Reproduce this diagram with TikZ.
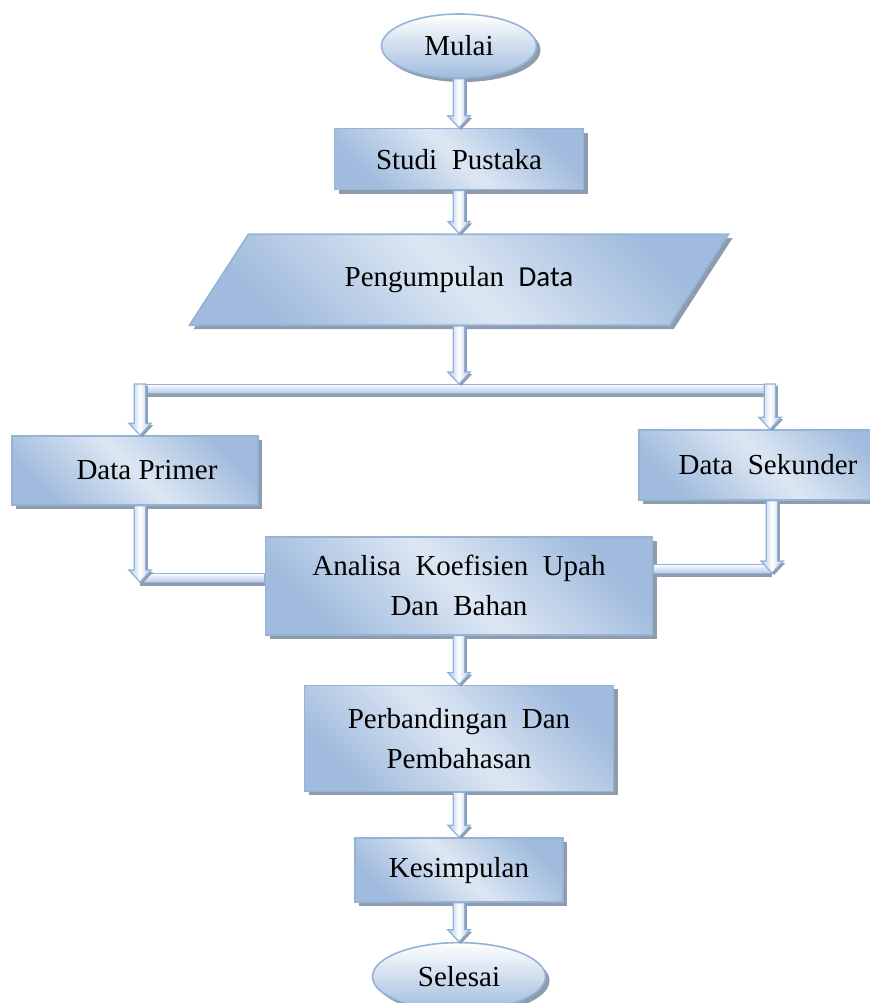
\documentclass[tikz,border=0pt]{standalone}
\usepackage{fontspec}
\setmainfont{Liberation Serif}
\newfontfamily\calibfont{Carlito}
\usepackage{tikz}
\usetikzlibrary{positioning,shapes.geometric,shadows,calc}
\definecolor{boxline}{HTML}{95B3D7}
\definecolor{boxdark}{HTML}{A0BBDD}
\definecolor{boxlight}{HTML}{DDE7F3}
\definecolor{shadowgray}{HTML}{8E9CAD}
\definecolor{pipeline}{HTML}{8FB1DA}
\definecolor{pipedark}{HTML}{AFC6E4}
\newcommand\pipew{2.9pt}
\newcommand\headw{5.6pt}
\newcommand\headl{6pt}
\newcommand\tubew{2.4pt}
\tikzset{
  shade/.style ={drop shadow={shadow xshift=2pt,shadow yshift=-2pt,
                 fill=shadowgray,opacity=1}},
  box/.style   ={rectangle,draw=boxline,line width=0.8pt,top color=boxdark,
                 bottom color=boxdark,middle color=boxlight,shading angle=-45,
                 align=center,shade},
  term/.style  ={ellipse,draw=boxline,line width=0.8pt,top color=white,
                 bottom color=boxdark,shade},
  io/.style    ={trapezium,trapezium left angle=34,trapezium right angle=146,
                 trapezium stretches body,draw=boxline,line width=0.8pt,
                 top color=boxdark,bottom color=boxdark,middle color=boxlight,
                 shading angle=-45,shade},
  pipe/.style  ={draw=pipeline,line width=0.6pt,left color=pipedark,
                 right color=pipedark,middle color=white,
                 drop shadow={shadow xshift=1pt,shadow yshift=-1pt,
                 fill=shadowgray,opacity=1},
                 to path={($(\tikztostart)!\pipew!90:(\tikztotarget)$)
                   -- ($(\tikztotarget)!\headl!(\tikztostart)!\pipew!-90:(\tikztostart)$)
                   -- ($(\tikztotarget)!\headl!(\tikztostart)!\headw!-90:(\tikztostart)$)
                   -- (\tikztotarget)
                   -- ($(\tikztotarget)!\headl!(\tikztostart)!\headw!90:(\tikztostart)$)
                   -- ($(\tikztotarget)!\headl!(\tikztostart)!\pipew!90:(\tikztostart)$)
                   -- ($(\tikztostart)!\pipew!-90:(\tikztotarget)$) -- cycle}},
  tube/.style  ={draw=pipeline,line width=0.6pt,top color=white,
                 bottom color=pipedark,
                 drop shadow={shadow xshift=0pt,shadow yshift=-1.5pt,
                 fill=shadowgray,opacity=1},
                 to path={($(\tikztostart)!\tubew!90:(\tikztotarget)$)
                   -- ($(\tikztotarget)!\tubew!-90:(\tikztostart)$)
                   -- ($(\tikztotarget)!\tubew!90:(\tikztostart)$)
                   -- ($(\tikztostart)!\tubew!-90:(\tikztotarget)$) -- cycle}}
}
\begin{document}
\begin{tikzpicture}[x=0.5pt,y=-0.5pt,
    every node/.style={font=\fontsize{14.5}{20}\selectfont}]
  \useasboundingbox (0,0) rectangle (870,1003);
  \clip (0,0) rectangle (870,1003);
  % main column
  \node[term,minimum width=77.5pt,minimum height=32pt] (mulai) at (459,46) {Mulai};
  \node[box,below=24.5pt of mulai,minimum width=124.5pt,minimum height=30.5pt]
    (studi) {Studi~ Pustaka};
  \node[io,below=21.5pt of studi,minimum width=269.5pt,minimum height=45.5pt]
    (kumpul) {Pengumpulan~ {\calibfont Data}};
  \node[box,below=105pt of kumpul,minimum width=193.5pt,minimum height=49pt]
    (analisa) {Analisa~ Koefisien~ Upah\\Dan~ Bahan};
  \node[box,below=24.5pt of analisa,minimum width=154.5pt,minimum height=53pt]
    (banding) {Perbandingan~ Dan\\Pembahasan};
  \node[box,below=22.5pt of banding,minimum width=104pt,minimum height=32pt]
    (simpul) {Kesimpulan};
  \node[term,below=19.5pt of simpul,minimum width=86.5pt,minimum height=34pt]
    (selesai) {Selesai};
  % side boxes
  \node[box,minimum width=123pt,minimum height=34.5pt] (primer) at (135,470.5)
    {\hspace*{12pt}Data Primer};
  \node[box,minimum width=129pt,minimum height=35pt] (sekunder) at (768,465)
    {Data~ Sekunder};
  % branch points
  \coordinate (splitM) at (kumpul.south |- 0,384);
  \coordinate (splitL) at (140,384);
  \coordinate (splitR) at (770,384);
  \coordinate (joinL) at (140,578);
  \coordinate (joinR) at (772,569);
  % connectors
  \draw[pipe] (mulai.south) to (mulai.south |- studi.north);
  \draw[pipe] (studi.south) to (studi.south |- kumpul.north);
  \draw[tube] ([xshift=-2pt,yshift=-2.5pt]splitL) to ([xshift=2pt,yshift=-2.5pt]splitR);
  \draw[pipe] (kumpul.south) to (splitM);
  \draw[pipe] (splitL) to (splitL |- primer.north);
  \draw[pipe] (splitR) to (splitR |- sekunder.north);
  \draw[tube] (joinL) to (joinL -| analisa.west);
  \draw[pipe] (joinL |- primer.south) to ([yshift=-2pt]joinL);
  \draw[tube] (joinR) to (joinR -| analisa.east);
  \draw[pipe] (joinR |- sekunder.south) to ([yshift=-2pt]joinR);
  \draw[pipe] (analisa.south) to (analisa.south |- banding.north);
  \draw[pipe] (banding.south) to (banding.south |- simpul.north);
  \draw[pipe] (simpul.south) to (simpul.south |- selesai.north);
\end{tikzpicture}
\end{document}
